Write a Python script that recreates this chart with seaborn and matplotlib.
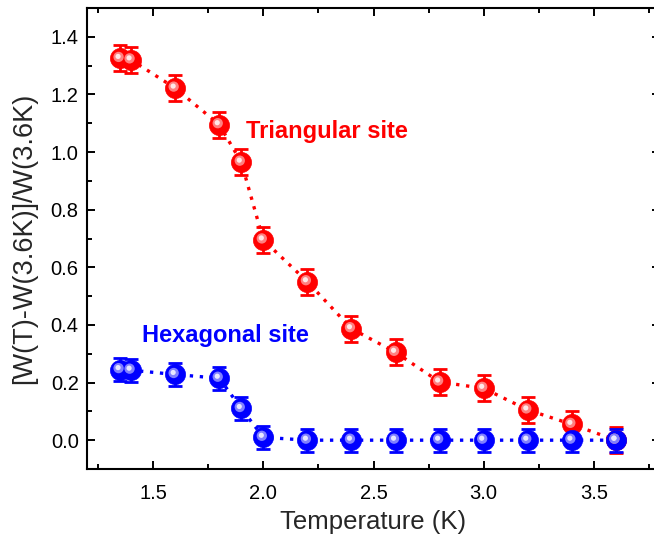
import numpy as np
import pandas as pd
import matplotlib
matplotlib.use("Agg")
import matplotlib.pyplot as plt
import matplotlib.transforms as mtransforms
from matplotlib.ticker import MultipleLocator
import seaborn as sns

# ---- data ----
temperature = [1.35, 1.4, 1.6, 1.8, 1.9, 2.0, 2.2, 2.4, 2.6, 2.8, 3.0, 3.2, 3.4, 3.6]
triangular = [1.325, 1.320, 1.222, 1.095, 0.965, 0.695, 0.550, 0.387, 0.305, 0.202, 0.180, 0.105, 0.055, 0.000]
triangular_err = [0.045, 0.045, 0.045, 0.045, 0.045, 0.045, 0.045, 0.045, 0.045, 0.045, 0.045, 0.045, 0.045, 0.045]
hexagonal = [0.245, 0.243, 0.228, 0.215, 0.110, 0.010, 0.000, 0.000, 0.000, 0.000, 0.000, 0.000, 0.000, 0.000]
hexagonal_err = [0.040, 0.040, 0.040, 0.040, 0.040, 0.040, 0.040, 0.040, 0.040, 0.040, 0.040, 0.040, 0.040, 0.040]
x_ticks = [1.5, 2.0, 2.5, 3.0, 3.5]
y_ticks = [0.0, 0.2, 0.4, 0.6, 0.8, 1.0, 1.2, 1.4]
x_label = "Temperature (K)"
y_label = "[W(T)-W(3.6K)]/W(3.6K)"
label_tri = "Triangular site"
label_hex = "Hexagonal site"

sns.set_theme(style="ticks")
plt.rcParams['font.family'] = ['Liberation Sans', 'DejaVu Sans']

fig = plt.figure(figsize=(6.54, 5.39), dpi=100)
ax = fig.add_axes([87/654, (539-469)/539, (660-87)/654, (469-8)/539])

df_t = pd.DataFrame({"T": temperature, "v": triangular})
df_h = pd.DataFrame({"T": temperature, "v": hexagonal})

series = [
    (df_t, triangular_err, "#ff0000", "#ff8080", "#ffe8e8"),
    (df_h, hexagonal_err, "#0000ff", "#8080ff", "#e8e8ff"),
]

for df, err, col, mid, hi in series:
    sns.lineplot(data=df, x="T", y="v", ax=ax, color=col, linestyle=(0, (1, 2.0)),
                 linewidth=2.4, zorder=2, sort=False)
    ax.errorbar(df["T"], df["v"], yerr=err, fmt="none", ecolor=col,
                elinewidth=2.0, capsize=5, capthick=2.0, zorder=3)
    sns.scatterplot(data=df, x="T", y="v", ax=ax, color=col, s=210,
                    edgecolor=col, linewidth=0.5, zorder=4)
    off1 = mtransforms.offset_copy(ax.transData, fig=fig, x=-1.5, y=1.5, units="dots")
    ax.scatter(df["T"], df["v"], s=55, color=mid, edgecolor="none", zorder=5, transform=off1)
    off2 = mtransforms.offset_copy(ax.transData, fig=fig, x=-2.0, y=2.0, units="dots")
    ax.scatter(df["T"], df["v"], s=14, color=hi, edgecolor="none", zorder=6, transform=off2)

ax.text(2.29, 1.072, label_tri, color="#ff0000", fontsize=17, fontweight="bold",
        ha="center", va="center")
ax.text(1.83, 0.362, label_hex, color="#0000ff", fontsize=17, fontweight="bold",
        ha="center", va="center")

ax.set_xlim(1.2, 3.8)
ax.set_ylim(-0.1, 1.5)
ax.set_xticks(x_ticks)
ax.set_yticks(y_ticks)
ax.set_xticklabels([f"{t:.1f}" for t in x_ticks])
ax.set_yticklabels([f"{t:.1f}" for t in y_ticks])
ax.xaxis.set_minor_locator(MultipleLocator(0.25))
ax.yaxis.set_minor_locator(MultipleLocator(0.1))
ax.tick_params(which="both", direction="in", top=True, right=True, width=1.4,
               colors="black", labelsize=14.5)
ax.tick_params(which="major", length=6)
ax.tick_params(which="minor", length=3.5)
ax.tick_params(axis="x", pad=11)
ax.tick_params(axis="y", pad=6)
for s in ax.spines.values():
    s.set_visible(True)
    s.set_linewidth(1.5)
    s.set_color("black")

ax.set_xlabel(x_label, fontsize=18.5, labelpad=5)
ax.set_ylabel(y_label, fontsize=19.5, va="center")
ax.yaxis.set_label_coords(-(87 - 24) / 573, 0.5)

fig.savefig("out.png", dpi=100)
